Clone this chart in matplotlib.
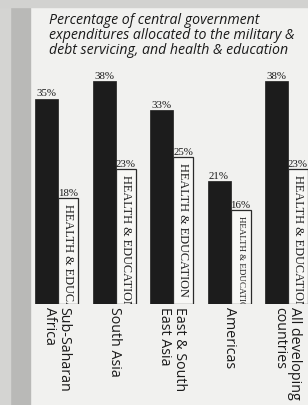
import matplotlib
matplotlib.use("Agg")
import matplotlib.pyplot as plt
from matplotlib.patches import Rectangle
import numpy as np

categories = ["Sub-Saharan\nAfrica", "South Asia", "East & South\nEast Asia", "Americas", "All developing\ncountries"]
military_debt = [35, 38, 33, 21, 38]
health_edu = [18, 23, 25, 16, 23]
title = "Percentage of central government\nexpenditures allocated to the military &\ndebt servicing, and health & education"
inner_label = "HEALTH & EDUCATION"

W, H = 308, 406
fig = plt.figure(figsize=(W / 100, H / 100), dpi=100)
fig.patch.set_facecolor("#f1f1ef")

# scanned page edges
fig.patches.append(Rectangle((0, 0), 30 / W, 1, transform=fig.transFigure, color="#b9b9b7", zorder=0))
fig.patches.append(Rectangle((0, 0), 10 / W, 1, transform=fig.transFigure, color="#d4d4d2", zorder=0))
fig.patches.append(Rectangle((0, 1 - 8 / H), 1, 8 / H, transform=fig.transFigure, color="#d2d2d0", zorder=0))

base_px = 305
top_px = 60
ax = fig.add_axes([0, (H - base_px) / H, 1, (base_px - top_px) / H])
ax.set_facecolor("none")
spacing = 57.5
x0 = 46.5
ax.set_xlim(-x0 / spacing, (W - x0) / spacing)
px_per_pct = 223 / 38
ax.set_ylim(0, (base_px - top_px) / px_per_pct)
ax.axis("off")

x = np.arange(len(categories))
dw = 0.40
lw = 0.35
dark = ax.bar(x, military_debt, width=dw, color="#1c1c1c", edgecolor="#1c1c1c", linewidth=0.5, zorder=2)
light = ax.bar(x + dw / 2 + lw / 2, health_edu, width=lw, color="#f7f7f5", edgecolor="#2a2a2a", linewidth=0.9, zorder=2)

pct_family = "Liberation Serif"
for xi, v in zip(x, military_debt):
    ax.text(xi, v + 0.2, f"{v}%", ha="center", va="bottom", fontsize=7.8, color="#1a1a1a",
            family=pct_family)
for xi, v, rect in zip(x, health_edu, light):
    cx = xi + dw / 2 + lw / 2
    ax.text(cx, v + 0.2, f"{v}%", ha="center", va="bottom", fontsize=7.8, color="#1a1a1a",
            family=pct_family)
    fs = 8.8 if v >= 18 else 6.5
    t = ax.text(cx, v - 0.8, inner_label, rotation=-90, ha="center", va="top", fontsize=fs,
                color="#1a1a1a", family="Liberation Serif", zorder=3)
    t.set_clip_path(rect)
    t.set_clip_on(True)

for xi, c in zip(x, categories):
    ax.text(xi + 0.18, -0.3, c, rotation=-90, ha="center", va="top", multialignment="left",
            fontsize=10.3, color="#1a1a1a", family="Open Sans", linespacing=0.98, clip_on=False)

fig.text(49 / W, 1 - 13 / H, title, ha="left", va="top", fontsize=10.2, style="italic",
         color="#1a1a1a", family="Open Sans", linespacing=1.02)

fig.savefig("out.png", dpi=100, facecolor=fig.get_facecolor())
